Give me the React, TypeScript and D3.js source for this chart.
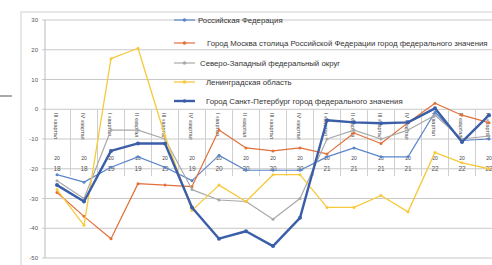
import { useMemo } from "react";
import * as d3 from "d3";

// quarter / year of every category on the x axis
const quarters = ["III", "IV", "I", "II", "III", "IV", "I", "II", "III", "IV", "I", "II", "III", "IV", "I", "II", "III"];
const years = ["18", "18", "19", "19", "19", "19", "20", "20", "20", "20", "21", "21", "21", "21", "22", "22", "22"];

const russia = [-22, -24.5, -19.5, -16, -19.5, -24, -15.5, -20.5, -20.5, -20.5, -16, -13, -16, -16, -1, -10.5, -10];
const moscow = [-28, -36, -43.5, -25, -25.5, -26, -7, -13, -14, -13, -15, -8, -11.5, -4.5, 2, -2, -4.5];
const nwfd = [-24, -30, -7, -7, -10, -27, -30.5, -31, -37, -30, -10, -7, -10, -7, -2, -10, -9];
const leningrad = [-27, -39, 17, 20.5, -9, -34, -25.5, -31, -22, -22, -33, -33, -29, -34.5, -14.5, -18, -20];
const spb = [-25.5, -31, -14, -11.5, -11.5, -33, -43.5, -41, -46, -36.5, -3.7, -4.4, -4.7, -4.4, 0.3, -11, -2];

const yTicks = [30, 20, 10, 0, -10, -20, -30, -40, -50];

const series = [
  { name: "Российская Федерация", values: russia, color: "#5b86c9", width: 1.2, lx: 198 },
  { name: "Город Москва столица Российской Федерации город федерального значения", values: moscow, color: "#e2703a", width: 1.2, lx: 207 },
  { name: "Северо-Западный федеральный округ", values: nwfd, color: "#a9a9a9", width: 1.2, lx: 200 },
  { name: "Ленинградская область", values: leningrad, color: "#f7c93c", width: 1.3, lx: 206 },
  { name: "Город Санкт-Петербург город федерального значения", values: spb, color: "#3a5ea8", width: 2.4, lx: 206 },
];
const legendY = [20, 43, 63, 82, 101];

const W = 492;
const H = 265;

export default function App() {
  const cats = quarters.map((q, i) => `${q} квартал 20${years[i]}`);

  const x = useMemo(() => d3.scalePoint<string>().domain(cats).range([57, 489]), []);
  const y = useMemo(() => d3.scaleLinear().domain([-50, 30]).range([258, 20]), []);
  const step = x.step();

  const line = (vals: number[]) =>
    d3
      .line<number>()
      .x((_, i) => x(cats[i]) as number)
      .y((d) => y(d))(vals) as string;

  return (
    <svg
      width={W}
      height={H}
      style={{ position: "absolute", left: 0, top: 0, background: "#fff" }}
      fontFamily="Liberation Sans, Arial, sans-serif"
    >
      {/* stray mark on the left */}
      <line x1={0} x2={12} y1={96} y2={96} stroke="#555" strokeWidth={1} />
      {/* chart frame */}
      <rect x={21} y={12} width={W} height={H} fill="none" stroke="#d0d0d0" />

      {/* gridlines + y labels */}
      {yTicks.map((t) => (
        <g key={t}>
          <line x1={42} x2={W} y1={y(t)} y2={y(t)} stroke="#c8c8c8" strokeWidth={1} />
          <text x={38} y={y(t) + 2} fontSize={6} fill="#555" textAnchor="end">
            {t}
          </text>
        </g>
      ))}
      <line x1={45} x2={45} y1={20} y2={258} stroke="#bbb" />

      {/* category boundaries and labels */}
      {cats.map((c, i) => {
        const cx = x(c) as number;
        return (
          <g key={c}>
            <line x1={cx + step / 2} x2={cx + step / 2} y1={y(0)} y2={176} stroke="#cfcfcf" />
            <text
              transform={`translate(${cx - 3},${113}) rotate(90)`}
              fontSize={5.5}
              fill="#444"
            >
              {`${quarters[i]} квартал`}
            </text>
            <text x={cx} y={160} fontSize={5} fill="#444" textAnchor="middle">
              20
            </text>
            <text x={cx} y={171} fontSize={6.5} fill="#555" textAnchor="middle">
              {years[i]}
            </text>
          </g>
        );
      })}

      {/* series */}
      {series.map((s) => (
        <g key={s.name}>
          <path d={line(s.values)} fill="none" stroke={s.color} strokeWidth={s.width} strokeLinejoin="round" />
          {s.values.map((v, i) => (
            <circle key={i} cx={x(cats[i]) as number} cy={y(v)} r={s.width > 2 ? 2 : 1.5} fill={s.color} />
          ))}
        </g>
      ))}

      {/* legend */}
      {series.map((s, i) => (
        <g key={s.name} transform={`translate(0,${legendY[i]})`}>
          <line x1={174} x2={195} y1={0} y2={0} stroke={s.color} strokeWidth={s.width} />
          <circle cx={184.5} cy={0} r={1.8} fill={s.color} />
          <text x={s.lx} y={2.5} fontSize={7.8} fill="#333">
            {s.name}
          </text>
        </g>
      ))}
    </svg>
  );
}
